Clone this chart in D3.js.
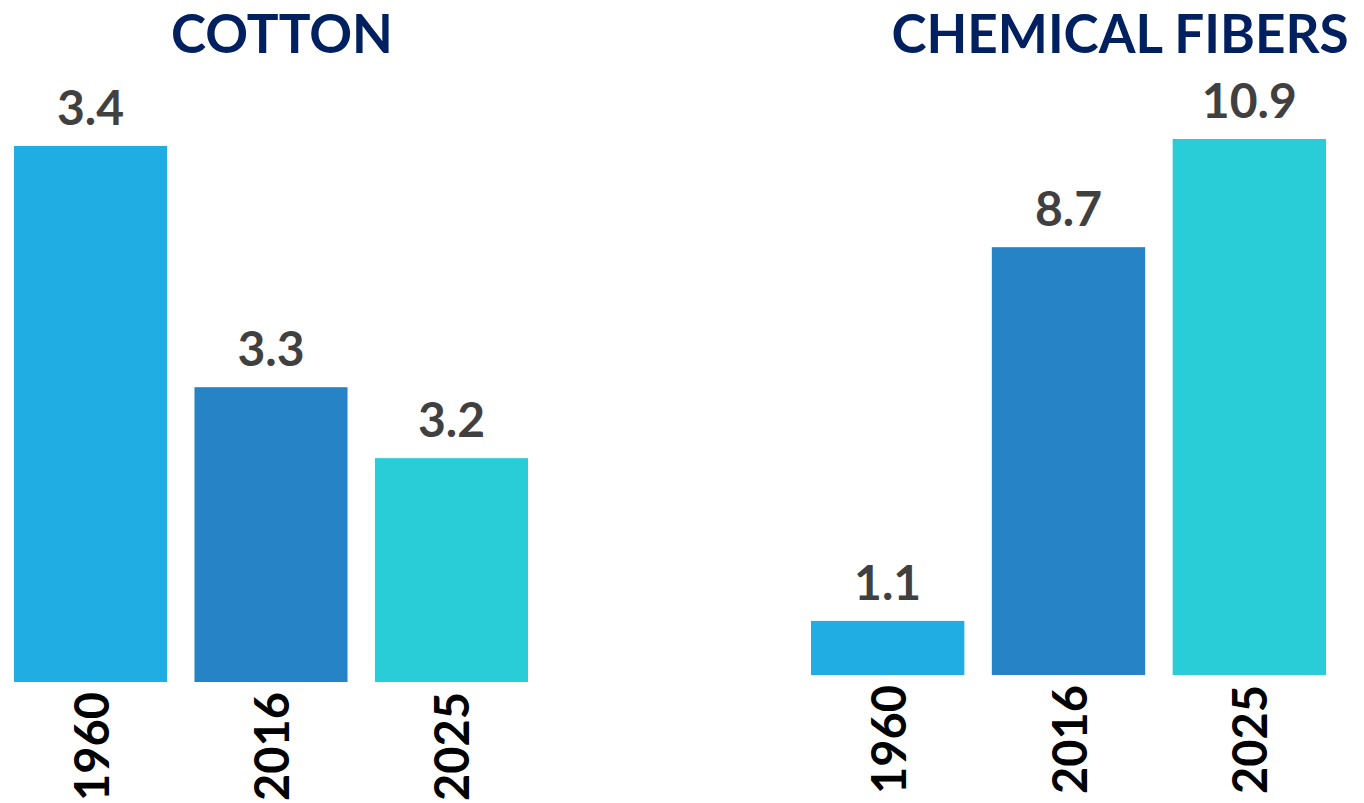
<!DOCTYPE html>
<html>
<head>
<meta charset="utf-8">
<script src="https://cdn.jsdelivr.net/npm/d3@7"></script>
<style>
  html, body { margin: 0; padding: 0; background: #ffffff; }
  svg { display: block; }
</style>
</head>
<body>
<svg id="chart" width="1364" height="803"></svg>
<script>
// ---- data ----
const years = ["1960", "2016", "2025"];
const panelTitles = ["COTTON", "CHEMICAL FIBERS"];
// value labels printed on top of the bars
const cottonLabels = [3.4, 3.3, 3.2];
const chemicalLabels = [1.1, 8.7, 10.9];
// bar lengths as drawn in the picture (cotton bars are not drawn to the printed values)
const cottonBars = [3.4, 1.87, 1.42];
const chemicalBars = [1.1, 8.7, 10.9];
const barColors = ["#1fade3", "#2683c6", "#28cdd7"];

// ---- layout ----
const svg = d3.select("#chart");
const FONT = "Lato, 'Open Sans', 'DejaVu Sans', sans-serif";

const panels = [
  { title: panelTitles[0], labels: cottonLabels, bars: cottonBars,
    x0: 14, x1: 528, base: 682, top: 146, titleX: 282, titleY: 53 },
  { title: panelTitles[1], labels: chemicalLabels, bars: chemicalBars,
    x0: 811, x1: 1326, base: 675, top: 139, titleX: 1120, titleY: 53 }
];

const color = d3.scaleOrdinal().domain(years).range(barColors);

panels.forEach(p => {
  const g = svg.append("g");
  const x = d3.scaleBand().domain(years).range([p.x0, p.x1])
    .paddingInner(0.152).paddingOuter(0);
  const y = d3.scaleLinear().domain([0, d3.max(p.bars)]).range([p.base, p.top]);

  const data = years.map((yr, i) => ({ year: yr, bar: p.bars[i], label: p.labels[i] }));

  g.selectAll("rect.bar").data(data).join("rect")
    .attr("class", "bar")
    .attr("x", d => x(d.year))
    .attr("width", x.bandwidth())
    .attr("y", d => y(d.bar))
    .attr("height", d => y(0) - y(d.bar))
    .attr("fill", d => color(d.year));

  g.selectAll("text.val").data(data).join("text")
    .attr("class", "val")
    .attr("x", d => x(d.year) + x.bandwidth() / 2)
    .attr("y", d => y(d.bar) - 21)
    .attr("text-anchor", "middle")
    .attr("font-family", FONT)
    .attr("font-weight", 700)
    .attr("font-size", 48)
    .attr("fill", "#404040")
    .text(d => d3.format(".1f")(d.label));

  // year axis labels, rotated
  const axis = d3.axisBottom(x).tickSize(0).tickPadding(0);
  const ax = g.append("g").attr("transform", `translate(0,${p.base})`).call(axis);
  ax.select(".domain").remove();
  ax.selectAll(".tick text")
    .attr("font-family", FONT)
    .attr("font-weight", 700)
    .attr("font-size", 47)
    .attr("fill", "#000000")
    .attr("text-anchor", "end")
    .attr("dy", null)
    .attr("transform", "rotate(-90)")
    .attr("x", -10)
    .attr("y", 0)
    .attr("dominant-baseline", "central");

  svg.append("text")
    .attr("x", p.titleX)
    .attr("y", p.titleY)
    .attr("text-anchor", "middle")
    .attr("font-family", FONT)
    .attr("font-weight", 700)
    .attr("font-size", 53)
    .attr("fill", "#002060")
    .text(p.title);
});
</script>
</body>
</html>
